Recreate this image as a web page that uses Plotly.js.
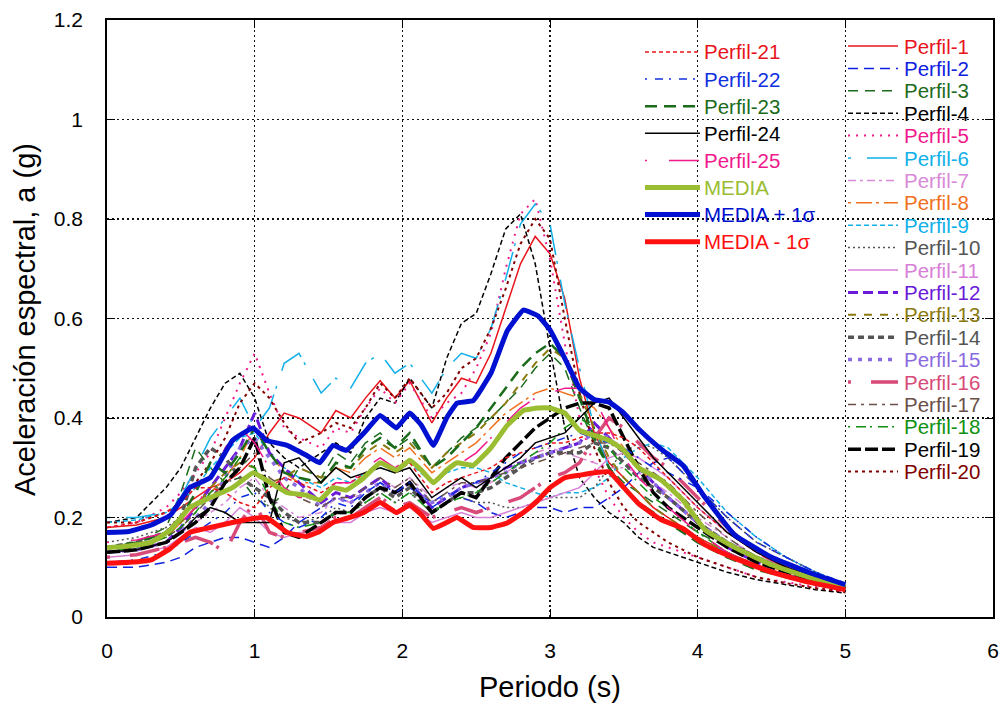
<!DOCTYPE html>
<html><head><meta charset="utf-8">
<script src="https://cdn.plot.ly/plotly-3.0.1.min.js"></script>
<style>html,body{margin:0;padding:0;background:#fff}#chart{width:1004px;height:706px}</style>
</head><body><div id="chart"></div>
<script>
// Periods (s) shared by the individual profiles
const X = [0,0.2,0.4, 0.5,0.6,0.7,0.8,0.9,1.0,1.1,1.2,1.3, 1.45,1.55,1.65,1.75,1.85,1.95,2.05, 2.2,2.3,2.4,2.5,2.6,2.7,2.8,2.9,3.0,3.1,3.2,3.3,3.4,3.5,3.6,3.7,3.8, 4.0,4.2,4.4,4.6,4.8,5.0];

const P1  = [0.18,0.185,0.2, 0.22,0.24,0.26,0.27,0.29,0.32,0.37,0.41,0.40, 0.37,0.415,0.40,0.44,0.475,0.44,0.475, 0.39,0.44,0.48,0.47,0.53,0.62,0.71,0.765,0.73,0.64,0.48,0.37,0.31,0.28,0.25,0.22,0.20, 0.16,0.13,0.105,0.085,0.07,0.058];
const P2  = [0.10,0.10,0.11, 0.12,0.14,0.15,0.16,0.16,0.15,0.14,0.16,0.19, 0.22,0.24,0.23,0.25,0.27,0.25,0.26, 0.23,0.25,0.24,0.23,0.21,0.20,0.21,0.22,0.22,0.21,0.22,0.22,0.24,0.26,0.29,0.31,0.32, 0.26,0.20,0.15,0.12,0.09,0.065];
const P3  = [0.14,0.15,0.18, 0.25,0.34,0.30,0.27,0.28,0.24,0.22,0.25,0.30, 0.28,0.33,0.31,0.35,0.37,0.34,0.36, 0.30,0.33,0.36,0.38,0.40,0.43,0.46,0.50,0.53,0.50,0.42,0.35,0.30,0.27,0.25,0.23,0.21, 0.17,0.14,0.11,0.09,0.075,0.06];
const P4  = [0.19,0.20,0.26, 0.30,0.36,0.42,0.47,0.49,0.44,0.35,0.32,0.30, 0.33,0.35,0.33,0.40,0.44,0.43,0.48, 0.42,0.52,0.59,0.61,0.69,0.78,0.81,0.71,0.54,0.38,0.28,0.24,0.21,0.19,0.16,0.14,0.13, 0.11,0.09,0.075,0.065,0.055,0.048];
const P5  = [0.18,0.19,0.22, 0.25,0.29,0.33,0.40,0.47,0.53,0.45,0.38,0.36, 0.34,0.38,0.37,0.42,0.46,0.43,0.47, 0.40,0.43,0.45,0.50,0.57,0.70,0.81,0.84,0.72,0.55,0.40,0.30,0.24,0.20,0.17,0.15,0.14, 0.12,0.10,0.08,0.07,0.06,0.05];
const P6  = [0.20,0.20,0.21, 0.24,0.30,0.36,0.40,0.44,0.38,0.42,0.51,0.53, 0.45,0.48,0.46,0.51,0.53,0.49,0.51, 0.45,0.50,0.53,0.52,0.58,0.68,0.79,0.83,0.79,0.63,0.50,0.38,0.30,0.26,0.23,0.21,0.19, 0.16,0.13,0.10,0.085,0.07,0.058];
const P7  = [0.13,0.135,0.15, 0.17,0.19,0.21,0.23,0.26,0.28,0.24,0.22,0.20, 0.21,0.24,0.23,0.26,0.28,0.26,0.28, 0.24,0.26,0.27,0.26,0.27,0.29,0.31,0.33,0.34,0.33,0.32,0.31,0.30,0.30,0.29,0.27,0.25, 0.20,0.16,0.12,0.095,0.075,0.06];
const P8  = [0.14,0.145,0.16, 0.19,0.22,0.25,0.28,0.32,0.38,0.33,0.29,0.27, 0.27,0.30,0.29,0.32,0.34,0.32,0.34, 0.29,0.31,0.33,0.35,0.38,0.41,0.43,0.45,0.46,0.45,0.44,0.42,0.38,0.34,0.30,0.27,0.24, 0.19,0.15,0.11,0.09,0.07,0.058];
const P9  = [0.19,0.195,0.21, 0.23,0.26,0.30,0.33,0.36,0.37,0.33,0.30,0.28, 0.26,0.28,0.27,0.29,0.30,0.29,0.31, 0.27,0.29,0.30,0.30,0.29,0.27,0.26,0.25,0.24,0.25,0.25,0.26,0.28,0.32,0.34,0.35,0.34, 0.28,0.21,0.16,0.12,0.09,0.066];
const P10 = [0.15,0.16,0.18, 0.20,0.23,0.25,0.27,0.28,0.26,0.22,0.20,0.19, 0.20,0.22,0.21,0.23,0.25,0.23,0.25, 0.21,0.23,0.24,0.23,0.23,0.22,0.22,0.23,0.24,0.24,0.24,0.26,0.30,0.33,0.35,0.34,0.32, 0.26,0.20,0.15,0.12,0.09,0.065];
const P11 = [0.12,0.125,0.14, 0.16,0.18,0.17,0.19,0.22,0.20,0.17,0.16,0.17, 0.17,0.19,0.19,0.21,0.22,0.21,0.22, 0.19,0.20,0.21,0.20,0.20,0.21,0.22,0.23,0.24,0.25,0.26,0.29,0.32,0.33,0.32,0.30,0.28, 0.22,0.17,0.13,0.10,0.08,0.062];
const P12 = [0.13,0.135,0.15, 0.18,0.22,0.26,0.30,0.34,0.41,0.33,0.30,0.27, 0.23,0.25,0.24,0.26,0.28,0.25,0.27, 0.22,0.24,0.26,0.27,0.28,0.30,0.31,0.32,0.33,0.34,0.35,0.39,0.36,0.33,0.30,0.27,0.24, 0.19,0.14,0.11,0.09,0.07,0.058];
const P13 = [0.13,0.14,0.16, 0.19,0.22,0.26,0.29,0.31,0.30,0.27,0.28,0.30, 0.28,0.30,0.30,0.33,0.35,0.33,0.35, 0.30,0.33,0.35,0.37,0.40,0.43,0.47,0.51,0.54,0.52,0.45,0.38,0.32,0.28,0.25,0.22,0.20, 0.16,0.13,0.10,0.085,0.07,0.057];
const P14 = [0.14,0.15,0.17, 0.20,0.30,0.34,0.32,0.28,0.26,0.24,0.21,0.19, 0.19,0.21,0.21,0.24,0.26,0.24,0.26, 0.21,0.23,0.25,0.25,0.26,0.28,0.30,0.32,0.33,0.33,0.33,0.35,0.34,0.31,0.28,0.26,0.24, 0.19,0.15,0.12,0.095,0.075,0.06];
const P15 = [0.13,0.135,0.15, 0.17,0.20,0.23,0.28,0.34,0.36,0.32,0.28,0.26, 0.22,0.24,0.23,0.25,0.27,0.25,0.27, 0.23,0.24,0.26,0.27,0.28,0.29,0.31,0.32,0.33,0.34,0.35,0.37,0.36,0.33,0.30,0.27,0.24, 0.19,0.15,0.12,0.095,0.075,0.06];
const P16 = [0.12,0.125,0.14, 0.15,0.16,0.15,0.13,0.19,0.23,0.17,0.16,0.17, 0.18,0.20,0.20,0.22,0.24,0.22,0.23, 0.20,0.21,0.22,0.21,0.22,0.23,0.24,0.26,0.28,0.29,0.31,0.36,0.40,0.38,0.35,0.32,0.30, 0.24,0.18,0.13,0.10,0.08,0.062];
const P17 = [0.14,0.145,0.16, 0.18,0.21,0.24,0.27,0.30,0.33,0.28,0.26,0.24, 0.22,0.24,0.24,0.26,0.28,0.26,0.28, 0.23,0.25,0.27,0.27,0.28,0.29,0.30,0.31,0.32,0.33,0.34,0.35,0.35,0.33,0.31,0.29,0.27, 0.21,0.16,0.12,0.095,0.075,0.06];
const P18 = [0.13,0.14,0.16, 0.18,0.21,0.25,0.28,0.32,0.30,0.24,0.19,0.18, 0.19,0.21,0.21,0.23,0.25,0.23,0.25, 0.21,0.23,0.24,0.25,0.27,0.29,0.31,0.33,0.35,0.38,0.40,0.38,0.34,0.30,0.27,0.24,0.22, 0.17,0.13,0.10,0.085,0.07,0.057];
const P19 = [0.13,0.135,0.15, 0.17,0.19,0.22,0.27,0.30,0.36,0.24,0.17,0.16, 0.19,0.21,0.21,0.24,0.26,0.25,0.27, 0.21,0.23,0.25,0.24,0.28,0.32,0.35,0.38,0.40,0.42,0.43,0.43,0.42,0.36,0.30,0.25,0.22, 0.18,0.14,0.11,0.09,0.07,0.057];
const P20 = [0.19,0.19,0.21, 0.23,0.27,0.31,0.36,0.43,0.47,0.44,0.39,0.35, 0.37,0.39,0.38,0.42,0.47,0.44,0.48, 0.42,0.45,0.50,0.52,0.58,0.66,0.75,0.80,0.76,0.60,0.45,0.34,0.27,0.22,0.19,0.17,0.15, 0.12,0.10,0.08,0.068,0.058,0.05];
const P21 = [0.18,0.19,0.21, 0.23,0.26,0.26,0.25,0.23,0.22,0.26,0.28,0.27, 0.25,0.27,0.27,0.29,0.31,0.29,0.31, 0.25,0.27,0.28,0.29,0.30,0.32,0.33,0.34,0.35,0.35,0.36,0.37,0.37,0.36,0.34,0.31,0.28, 0.22,0.17,0.13,0.10,0.08,0.062];
const P22 = [0.11,0.115,0.13, 0.15,0.17,0.19,0.21,0.24,0.25,0.21,0.19,0.18, 0.20,0.23,0.22,0.25,0.27,0.25,0.27, 0.22,0.24,0.26,0.27,0.29,0.31,0.33,0.34,0.35,0.36,0.37,0.36,0.35,0.34,0.32,0.30,0.29, 0.26,0.21,0.16,0.12,0.09,0.068];
const P23 = [0.14,0.15,0.17, 0.20,0.25,0.31,0.29,0.33,0.38,0.33,0.29,0.28, 0.27,0.31,0.30,0.34,0.36,0.34,0.37, 0.30,0.32,0.35,0.38,0.42,0.46,0.50,0.53,0.55,0.52,0.44,0.36,0.30,0.26,0.23,0.21,0.19, 0.15,0.12,0.095,0.08,0.065,0.055];
const P24 = [0.13,0.135,0.15, 0.17,0.20,0.22,0.21,0.19,0.19,0.19,0.31,0.32, 0.27,0.30,0.28,0.29,0.30,0.29,0.30, 0.24,0.26,0.28,0.26,0.28,0.30,0.32,0.35,0.36,0.37,0.40,0.43,0.44,0.40,0.36,0.32,0.29, 0.23,0.17,0.13,0.10,0.08,0.06];
const P25 = [0.15,0.155,0.17, 0.19,0.22,0.27,0.34,0.38,0.35,0.30,0.26,0.24, 0.24,0.27,0.27,0.30,0.32,0.30,0.32, 0.27,0.29,0.31,0.33,0.36,0.39,0.42,0.44,0.45,0.46,0.46,0.44,0.38,0.32,0.28,0.25,0.22, 0.17,0.13,0.10,0.085,0.07,0.056];

// Statistics
const X_MEAN = [0,0.15,0.3,0.43,0.56,0.7,0.85,0.99,1.08,1.22,1.35,1.44,1.53,1.62,1.74,1.85,1.96,2.05,2.13,2.21,2.3,2.37,2.48,2.6,2.71,2.82,2.92,3.0,3.1,3.2,3.3,3.4,3.5,3.6,3.75,3.9,4.05,4.25,4.5,4.75,5.0];
const MEDIA       = [0.139,0.143,0.15,0.175,0.22,0.24,0.26,0.29,0.275,0.25,0.245,0.235,0.26,0.255,0.28,0.31,0.295,0.315,0.295,0.27,0.295,0.31,0.305,0.34,0.385,0.415,0.42,0.42,0.41,0.375,0.365,0.355,0.335,0.30,0.276,0.235,0.175,0.14,0.105,0.08,0.06];
const MEDIA_MAS   = [0.17,0.172,0.185,0.205,0.26,0.28,0.355,0.38,0.355,0.345,0.325,0.31,0.345,0.335,0.37,0.405,0.38,0.41,0.385,0.345,0.40,0.43,0.435,0.49,0.575,0.617,0.605,0.577,0.52,0.46,0.437,0.432,0.41,0.378,0.338,0.305,0.24,0.165,0.12,0.09,0.065];
const MEDIA_MENOS = [0.108,0.11,0.115,0.138,0.17,0.18,0.19,0.198,0.2,0.17,0.162,0.172,0.19,0.198,0.21,0.23,0.21,0.225,0.205,0.178,0.19,0.2,0.18,0.18,0.189,0.21,0.235,0.26,0.28,0.285,0.29,0.292,0.26,0.228,0.196,0.178,0.145,0.118,0.09,0.07,0.055];

const PERFILES = [P1,P2,P3,P4,P5,P6,P7,P8,P9,P10,P11,P12,P13,P14,P15,P16,P17,P18,P19,P20,P21,P22,P23,P24,P25];
const PERFIL_NAMES = PERFILES.map((_, i) => 'Perfil-' + (i + 1));
const MEAN_SERIES = [MEDIA, MEDIA_MAS, MEDIA_MENOS];
const MEAN_NAMES = ['MEDIA', 'MEDIA + 1σ', 'MEDIA - 1σ'];

// Styles
const COLORS = ['#e8141c','#1020e0','#1d6b1d','#000000','#f0198c','#12b0e8','#d88ad8','#f07020','#12b0e8','#555555',
                '#d880d8','#6a1ad8','#8a7a10','#555555','#8a6ae0','#d84a78','#6a5048','#109010','#000000','#800000',
                '#e8141c','#1030e0','#1a6b1a','#000000','#f0198c'];
const DASHES = ['solid','10px,6px','10px,7px','5px,3px','2px,6px','3px,16px,30px,6px','8px,4px,3px,4px','3px,5px,16px,4px','5px,3px','2px,3px',
                'solid','10px,5px','8px,8px','6px,4px','4px,6px','3px,20px,30px,4px','8px,5px,3px,5px','2px,6px,10px,4px','13px,4px','3px,4px',
                '4px,3px','2px,8px,8px,6px','12px,7px','solid','2px,22px,30px,4px'];
const WIDTHS = [1.5,1.5,1.5,1.5,2,1.5,1.5,1.5,1.5,1.5,1.5,3,2,3.5,3.5,3.5,1.5,1.5,3.5,2,1.5,1.5,2.5,1.5,1.5];
const MEAN_COLORS = ['#9abd32','#0010d0','#ff1010'];
const MEAN_WIDTH = 5;

const FONT = 'Liberation Sans, Arial, Helvetica, sans-serif';

const traces = [];
PERFILES.forEach((ys, i) => {
  traces.push({x: X, y: ys, type: 'scatter', mode: 'lines', name: PERFIL_NAMES[i], showlegend: false,
    line: {color: COLORS[i], dash: DASHES[i], width: WIDTHS[i]}});
});
MEAN_SERIES.forEach((ys, i) => {
  traces.push({x: X_MEAN, y: ys, type: 'scatter', mode: 'lines', name: MEAN_NAMES[i], showlegend: false,
    line: {color: MEAN_COLORS[i], width: MEAN_WIDTH, shape: 'spline', smoothing: 0.3}});
});

// Manual legend (two columns, coloured text)
const L = 107, R = 993, T = 20, B = 617;
const px = v => (v - L) / (R - L);
const py = v => (B - v) / (B - T);
const shapes = [], annotations = [];
function legendItem(rowY, x0, x1, xt, label, color, dash, width) {
  shapes.push({type: 'line', xref: 'paper', yref: 'paper', x0: px(x0), x1: px(x1), y0: py(rowY), y1: py(rowY),
    line: {color: color, dash: dash, width: width}, layer: 'above'});
  annotations.push({xref: 'paper', yref: 'paper', x: px(xt), y: py(rowY), xanchor: 'left', yanchor: 'middle',
    showarrow: false, text: label, font: {family: FONT, size: 20.5, color: color}});
}
for (let i = 0; i < 20; i++) {
  legendItem(46 + i * 22.4, 848, 898, 902, PERFIL_NAMES[i], COLORS[i], DASHES[i], WIDTHS[i]);
}
for (let j = 0; j < 5; j++) {
  const i = 20 + j;
  legendItem(52 + j * 27.1, 645, 700, 702, PERFIL_NAMES[i], COLORS[i], DASHES[i], WIDTHS[i]);
}
for (let k = 0; k < 3; k++) {
  legendItem(52 + (5 + k) * 27.1, 645, 700, 702, MEAN_NAMES[k], MEAN_COLORS[k], 'solid', MEAN_WIDTH);
}
annotations.push({xref: 'paper', yref: 'paper', x: 0.5, y: py(687), xanchor: 'center', yanchor: 'middle',
  showarrow: false, text: 'Periodo (s)', font: {family: FONT, size: 29, color: '#000'}});
annotations.push({xref: 'paper', yref: 'paper', x: px(25), y: py(320), xanchor: 'center', yanchor: 'middle',
  textangle: -90, showarrow: false, text: 'Aceleración espectral, a (g)', font: {family: FONT, size: 29, color: '#000'}});

const axisCommon = {
  showgrid: true, gridcolor: '#111', griddash: '2px,3px', gridwidth: 1.3,
  showline: true, mirror: 'ticks', linecolor: '#000', linewidth: 1.8,
  ticks: 'inside', ticklen: 8, tickcolor: '#000', tickwidth: 1,
  zeroline: false, tickfont: {family: FONT, size: 21, color: '#000'}
};
const layout = {
  width: 1004, height: 706,
  margin: {l: 107, r: 11, t: 20, b: 89},
  paper_bgcolor: '#fff', plot_bgcolor: '#fff',
  font: {family: FONT, color: '#000'},
  showlegend: false,
  xaxis: Object.assign({}, axisCommon, {range: [0, 6], dtick: 1, tick0: 0, ticklabelstandoff: 14}),
  yaxis: Object.assign({}, axisCommon, {range: [0, 1.2], dtick: 0.2, tick0: 0, ticklabelstandoff: 18}),
  shapes: shapes,
  annotations: annotations
};
Plotly.newPlot('chart', traces, layout, {displayModeBar: false, staticPlot: true});
</script>
</body></html>
